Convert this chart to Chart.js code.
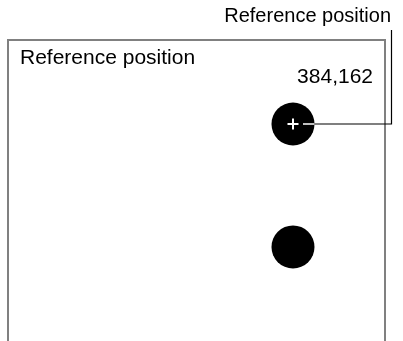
<!DOCTYPE html>
<html>
<head>
<meta charset="utf-8">
<script src="https://cdn.jsdelivr.net/npm/chart.js@4"></script>
<style>
  body { margin: 0; background: #fff; }
  canvas { display: block; }
</style>
</head>
<body>
<canvas id="refChart" width="403" height="341"></canvas>
<script>
// data
var pointX = [384, 384];
var pointY = [162, 402];
var refIndex = 0; // which point is the reference one
var labelText = 'Reference position';

var family = '"Liberation Sans", Arial, sans-serif';

// frame, labels and leader line drawn over the chart
var refPlugin = {
    id: 'refPlugin',
    afterDatasetsDraw: function(chart) {
        var ctx = chart.ctx;
        var pt = chart.getDatasetMeta(0).data[refIndex];
        var r = chart.data.datasets[0].pointRadius;

        ctx.save();
        // open-bottom frame
        ctx.strokeStyle = '#808080';
        ctx.lineWidth = 2;
        ctx.beginPath();
        ctx.moveTo(8, 345);
        ctx.lineTo(8, 40);
        ctx.lineTo(385, 40);
        ctx.lineTo(385, 345);
        ctx.stroke();

        // leader line: white inside the dot, black outside
        ctx.lineWidth = 1.5;
        ctx.strokeStyle = '#fff';
        ctx.beginPath();
        ctx.moveTo(pt.x + 10, pt.y);
        ctx.lineTo(pt.x + r, pt.y);
        ctx.stroke();
        ctx.strokeStyle = '#000';
        ctx.lineWidth = 1.2;
        ctx.beginPath();
        ctx.moveTo(pt.x + r, pt.y);
        ctx.lineTo(391.5, pt.y);
        ctx.lineTo(391.5, 30);
        ctx.stroke();

        // texts
        ctx.fillStyle = '#000';
        ctx.textBaseline = 'alphabetic';
        ctx.font = '21px ' + family;
        ctx.textAlign = 'left';
        ctx.fillText(labelText, 20, 64);
        ctx.textAlign = 'right';
        ctx.fillText(pointX[refIndex] + ',' + pointY[refIndex], 373, 83);
        ctx.font = '20px ' + family;
        ctx.fillText(labelText, 391, 22);
        ctx.restore();
    }
};

var ctx = document.getElementById('refChart').getContext('2d');
var refChart = new Chart(ctx, {
    type: 'scatter',
    data: {
        datasets: [{
            label: 'points',
            data: pointX.map(function(x, i) { return { x: x, y: pointY[i] }; }),
            backgroundColor: '#000',
            borderWidth: 0,
            pointRadius: 21.5,
            pointHoverRadius: 21.5,
            order: 1
        }, {
            label: 'reference',
            data: [{ x: pointX[refIndex], y: pointY[refIndex] }],
            pointStyle: 'cross',
            borderColor: '#fff',
            borderWidth: 2,
            pointRadius: 5.5,
            pointHoverRadius: 5.5,
            order: 0
        }]
    },
    options: {
        responsive: false,
        animation: false,
        layout: {
            // big enough to cover the point overflow chart.js reserves
            padding: { left: 22, top: 41, right: 22, bottom: 22 }
        },
        scales: {
            x: { type: 'linear', display: false, min: 0, max: 508.7 },
            y: { type: 'linear', display: false, reverse: true, min: 0, max: 542.6 }
        },
        plugins: {
            legend: { display: false },
            tooltip: { enabled: false }
        }
    },
    plugins: [refPlugin]
});
</script>
</body>
</html>
